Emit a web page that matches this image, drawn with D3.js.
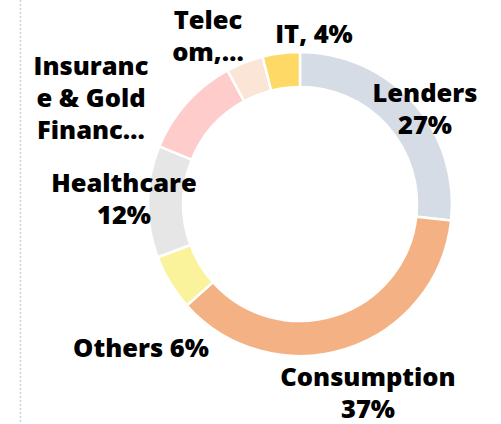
<!DOCTYPE html>
<html>
<head>
<meta charset="utf-8">
<script src="https://cdn.jsdelivr.net/npm/d3@7"></script>
<style>
  body { margin: 0; background: #fff; }
  svg { display: block; }
</style>
</head>
<body>
<svg></svg>
<script>
// sector split
var sectors = ["Lenders", "Consumption", "Others", "Healthcare", "Insurance & Gold Finance", "Telecom", "IT"];
var shares = [27, 37, 6, 12, 11, 4, 4];
var colours = ["#D6DCE5", "#F4B183", "#FAF39B", "#E6E6E6", "#FFCCCC", "#FBE5D6", "#FFD966"];

// data labels as they are wrapped in the picture
var labelLines = [
  ["Lenders", "27%"],
  ["Consumption", "37%"],
  ["Others 6%"],
  ["Healthcare", "12%"],
  ["Insuranc", "e & Gold", "Financ\u2026"],
  ["Telec", "om,\u2026"],
  ["IT, 4%"]
];

var svgWidth = 501;
var svgHeight = 424;
var cx = 300, cy = 204;
var outerR = 152, innerR = 117;

// label block centres
var labelPos = [[425, 109], [368, 393], [141, 348], [124, 199], [91, 98], [208, 36], [314, 34]];
var lineHeight = 32;

var svg = d3.select("svg")
  .attr("width", svgWidth)
  .attr("height", svgHeight);

// dotted divider on the left
svg.append("line")
  .attr("x1", 20.5).attr("x2", 20.5)
  .attr("y1", 0).attr("y2", svgHeight)
  .attr("stroke", "#C9D1DD")
  .attr("stroke-width", 1.5)
  .attr("stroke-dasharray", "2,2");

var pie = d3.pie().sort(null).value(function(d) { return d; });
var arc = d3.arc().innerRadius(innerR).outerRadius(outerR);

var g = svg.append("g").attr("transform", "translate(" + cx + "," + cy + ")");

g.selectAll("path")
  .data(pie(shares))
  .enter()
  .append("path")
  .attr("d", arc)
  .attr("fill", function(d, i) { return colours[i]; })
  .attr("stroke", "#fff")
  .attr("stroke-width", 2.5);

var labels = svg.selectAll("text.lbl")
  .data(labelLines)
  .enter()
  .append("text")
  .attr("class", "lbl")
  .attr("text-anchor", "middle")
  .attr("font-family", "'Open Sans', sans-serif")
  .attr("font-weight", 800)
  .attr("font-size", "25.5px")
  .attr("fill", "#000");

labels.each(function(lines, i) {
  var t = d3.select(this);
  var top = labelPos[i][1] - (lines.length - 1) * lineHeight / 2;
  lines.forEach(function(s, j) {
    t.append("tspan")
      .attr("x", labelPos[i][0])
      .attr("y", top + j * lineHeight)
      .attr("dy", "0.35em")
      .text(s);
  });
});
</script>
</body>
</html>
